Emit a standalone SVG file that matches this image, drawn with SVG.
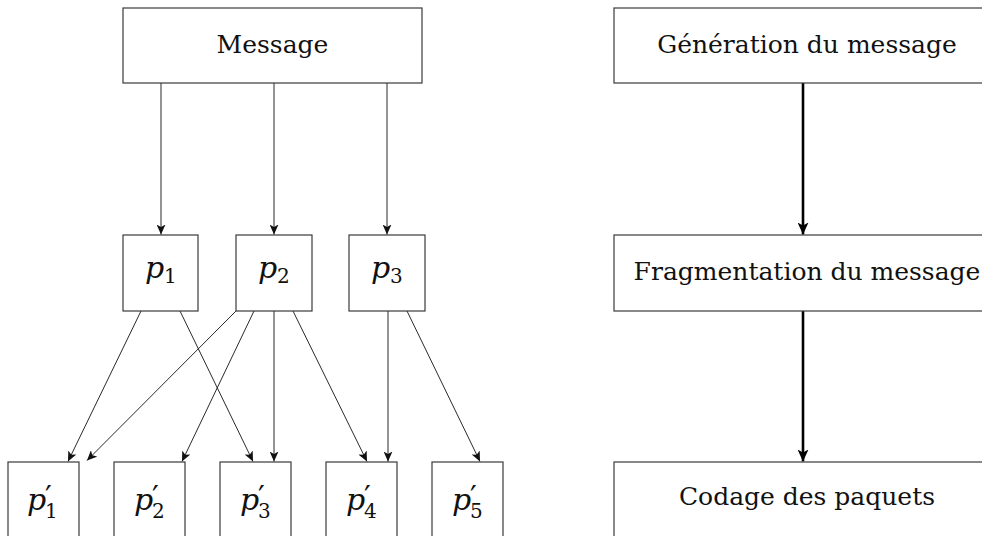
<svg xmlns="http://www.w3.org/2000/svg" width="982" height="536" viewBox="0 0 982 536">
<style>
.box{fill:#fff;stroke:#3a3a3a;stroke-width:1.2}
.lbl{font-family:"DejaVu Serif",serif;font-size:25px;fill:#111;text-anchor:middle}
.m{font-family:"DejaVu Serif",serif;font-style:italic;font-size:30px;fill:#111}
.s{font-style:normal;font-size:20px}
.pr{font-style:normal;font-size:30px}
.c{stroke:#111;stroke-width:0.9;fill:none;marker-end:url(#ah)}
.t{stroke:#000;stroke-width:2.6;fill:none;marker-end:url(#ahb)}
</style>
<defs>
<marker id="ah" markerWidth="11" markerHeight="9" refX="10" refY="4.5" orient="auto" markerUnits="userSpaceOnUse">
<path d="M0,0 L10,4.5 L0,9 L2.5,4.5 Z" fill="#111"/>
</marker>
<marker id="ahb" markerWidth="13" markerHeight="11" refX="12" refY="5.5" orient="auto" markerUnits="userSpaceOnUse">
<path d="M0,0 L12,5.5 L0,11 L3,5.5 Z" fill="#000"/>
</marker>
</defs>
<g id="connectors">
<line class="c" x1="161" y1="83" x2="161" y2="234.5"/>
<line class="c" x1="274" y1="83" x2="274" y2="234.5"/>
<line class="c" x1="387" y1="83" x2="387" y2="234.5"/>
<line class="c" x1="141" y1="311" x2="68" y2="461.5"/>
<line class="c" x1="180" y1="311" x2="253" y2="461.5"/>
<line class="c" x1="236" y1="311" x2="87" y2="460.5"/>
<line class="c" x1="254" y1="311" x2="182" y2="461.5"/>
<line class="c" x1="274" y1="311" x2="274" y2="461.5"/>
<line class="c" x1="293" y1="311" x2="367" y2="461.5"/>
<line class="c" x1="388" y1="311" x2="388" y2="461.5"/>
<line class="c" x1="407" y1="311" x2="480" y2="461.5"/>
<line class="t" x1="803" y1="83" x2="803" y2="234.5"/>
<line class="t" x1="803" y1="311" x2="803" y2="461.5"/>
</g>
<g id="message"><rect class="box" x="123" y="8" width="299" height="75"/><text class="lbl" x="272.5" y="53">Message</text></g>
<g id="p1"><rect class="box" x="123" y="235" width="75" height="76"/><text class="m" x="145" y="278">p<tspan class="s" x="164" y="283">1</tspan></text></g>
<g id="p2"><rect class="box" x="236" y="235" width="76" height="76"/><text class="m" x="258" y="278">p<tspan class="s" x="277" y="283">2</tspan></text></g>
<g id="p3"><rect class="box" x="349" y="235" width="76" height="76"/><text class="m" x="371" y="278">p<tspan class="s" x="390" y="283">3</tspan></text></g>
<g id="pp1"><rect class="box" x="8" y="462" width="71" height="80"/><text class="m" x="27" y="510">p<tspan class="pr" x="45" y="507">′</tspan><tspan class="s" x="45" y="518">1</tspan></text></g>
<g id="pp2"><rect class="box" x="114" y="462" width="71" height="80"/><text class="m" x="134" y="510">p<tspan class="pr" x="152" y="507">′</tspan><tspan class="s" x="152" y="518">2</tspan></text></g>
<g id="pp3"><rect class="box" x="220" y="462" width="71" height="80"/><text class="m" x="240" y="510">p<tspan class="pr" x="258" y="507">′</tspan><tspan class="s" x="258" y="518">3</tspan></text></g>
<g id="pp4"><rect class="box" x="326" y="462" width="71" height="80"/><text class="m" x="346" y="510">p<tspan class="pr" x="364" y="507">′</tspan><tspan class="s" x="364" y="518">4</tspan></text></g>
<g id="pp5"><rect class="box" x="432" y="462" width="71" height="80"/><text class="m" x="452" y="510">p<tspan class="pr" x="470" y="507">′</tspan><tspan class="s" x="470" y="518">5</tspan></text></g>
<g id="generation"><rect class="box" x="614" y="8" width="380" height="75"/><text class="lbl" x="807" y="53">Génération du message</text></g>
<g id="fragmentation"><rect class="box" x="614" y="235" width="380" height="76"/><text class="lbl" x="807" y="280">Fragmentation du message</text></g>
<g id="codage"><rect class="box" x="614" y="462" width="380" height="80"/><text class="lbl" x="807" y="505">Codage des paquets</text></g>
</svg>
